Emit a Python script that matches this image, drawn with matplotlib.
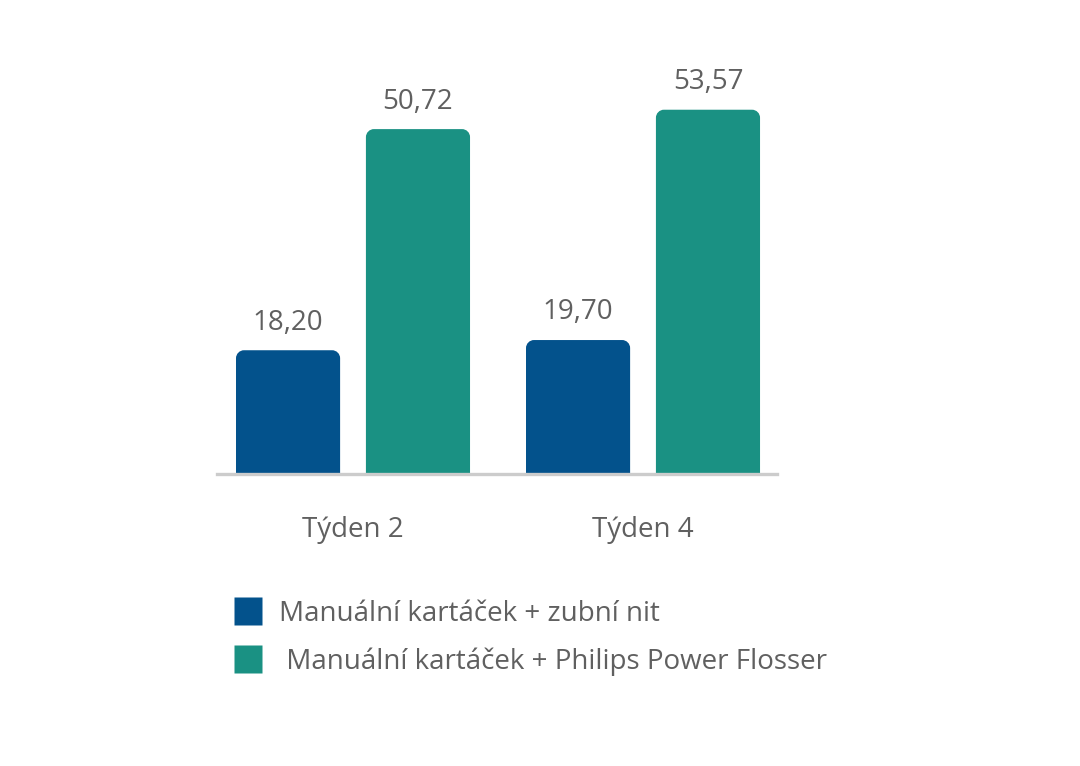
import matplotlib.pyplot as plt
from matplotlib.path import Path
from matplotlib.patches import PathPatch
from matplotlib.lines import Line2D
import numpy as np

plt.rcParams['font.family'] = ['Open Sans', 'DejaVu Sans']

weeks = ["Týden 2", "Týden 4"]
series_names = ["Manuální kartáček + zubní nit",
                " Manuální kartáček + Philips Power Flosser"]
floss = [18.20, 19.70]
flosser = [50.72, 53.57]
colors = ["#03528c", "#1a9183"]
text_color = "#606060"
fs = 20

fig = plt.figure(figsize=(10.8, 7.66), dpi=100)
# axes placed in pixel terms: x 217..777, baseline at y=474
ax = fig.add_axes([217 / 1080, (766 - 474) / 766, 560 / 1080, 414 / 766])
ax.set_xlim(-0.469, 1.462)
ax.set_ylim(0, 414 / 6.8)

x = np.arange(len(weeks))
width = 0.359
offset = 0.224

# pixels per data unit, used to keep corner radius round
px_x = 560 / (1.462 + 0.469)
px_y = 6.8
r = 8


def rounded_bar(ax, xc, h, w, color):
    rx = r / px_x
    ry = r / px_y
    k = 0.5523
    x0, x1 = xc - w / 2, xc + w / 2
    verts = [
        (x0, 0), (x0, h - ry),
        (x0, h - ry + k * ry), (x0 + rx - k * rx, h), (x0 + rx, h),
        (x1 - rx, h),
        (x1 - rx + k * rx, h), (x1, h - ry + k * ry), (x1, h - ry),
        (x1, 0), (x0, 0),
    ]
    codes = [Path.MOVETO, Path.LINETO,
             Path.CURVE4, Path.CURVE4, Path.CURVE4,
             Path.LINETO,
             Path.CURVE4, Path.CURVE4, Path.CURVE4,
             Path.LINETO, Path.CLOSEPOLY]
    ax.add_patch(PathPatch(Path(verts, codes), facecolor=color, edgecolor="none", zorder=2))


for vals, sign, c in [(floss, -1, colors[0]), (flosser, 1, colors[1])]:
    for xi, v in zip(x, vals):
        rounded_bar(ax, xi + sign * offset, v, width, c)
        ax.text(xi + sign * offset, v + 2.0, f"{v:.2f}".replace(".", ","),
                ha="center", va="bottom", fontsize=fs, color=text_color)

for s in ["top", "right", "left"]:
    ax.spines[s].set_visible(False)
ax.spines["bottom"].set_color("#cccccc")
ax.spines["bottom"].set_linewidth(2.4)
ax.spines["bottom"].set_zorder(3)
ax.set_yticks([])
ax.set_xticks(x)
ax.set_xticklabels(weeks, fontsize=fs, color=text_color)
ax.tick_params(axis="x", length=0, pad=30)

handles = [Line2D([], [], marker="s", linestyle="none", markersize=20,
                  markerfacecolor=c, markeredgecolor="none") for c in colors]
leg = fig.legend(handles, series_names, loc="upper left",
                 bbox_to_anchor=(223 / 1080, 1 - 589 / 766), frameon=False,
                 fontsize=fs, labelcolor=text_color, handlelength=1.0,
                 handletextpad=0.62, labelspacing=0.68, borderaxespad=0)

fig.savefig("out.png", dpi=100)
